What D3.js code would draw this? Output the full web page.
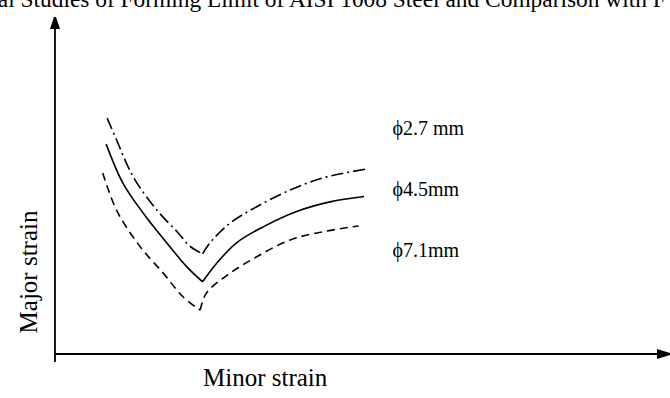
<!DOCTYPE html>
<html>
<head>
<meta charset="utf-8">
<script src="https://cdn.jsdelivr.net/npm/d3@7"></script>
<style>
  html, body { margin: 0; padding: 0; background: #fff; }
  svg { display: block; }
  text { font-family: "Liberation Serif", "Times New Roman", serif; fill: #000; }
</style>
</head>
<body>
<svg id="chart" width="670" height="398"></svg>
<script>
// Forming limit curves (minor strain vs. major strain) for three grid circle diameters
const titleText = "al Studies of Forming Limit of AISI 1008 Steel and Comparison with F";
const xLabel = "Minor strain";
const yLabel = "Major strain";
const seriesNames = ["\u03D52.7 mm", "\u03D54.5mm", "\u03D57.1mm"];

// [minor strain, major strain] — left (drawing) branch and right (stretching) branch
const d27Left  = [[-0.194,0.490],[-0.175,0.445],[-0.141,0.368],[-0.093,0.299],[-0.050,0.252],[-0.026,0.224],[0.000,0.208]];
const d27Right = [[0.000,0.208],[0.015,0.231],[0.056,0.272],[0.110,0.306],[0.179,0.341],[0.245,0.366],[0.332,0.384]];
const d45Left  = [[-0.196,0.436],[-0.162,0.355],[-0.121,0.293],[-0.073,0.231],[-0.032,0.181],[0.000,0.150]];
const d45Right = [[0.000,0.150],[0.029,0.189],[0.069,0.231],[0.123,0.264],[0.191,0.296],[0.259,0.316],[0.328,0.327]];
const d71Left  = [[-0.203,0.376],[-0.175,0.299],[-0.127,0.223],[-0.080,0.168],[-0.040,0.119],[-0.005,0.091]];
const d71Right = [[-0.005,0.091],[0.008,0.127],[0.056,0.168],[0.110,0.202],[0.178,0.237],[0.245,0.254],[0.317,0.266]];

// label anchor values (minor, major) for each curve name
const labelPos = [[0.386,0.455],[0.386,0.328],[0.386,0.2015]];

const svg = d3.select("#chart");
const x = d3.scaleLinear().domain([-0.3, 0.95]).range([55, 670]);
const y = d3.scaleLinear().domain([0, 0.7]).range([354, 17]);

// title (runs off both edges)
svg.append("text")
  .attr("x", -2.2).attr("y", 7)
  .attr("font-size", 23.4)
  .text(titleText);

// axes with arrowheads
const x0 = x.range()[0], x1 = x.range()[1];
const y0 = y.range()[0], y1 = y.range()[1];
const axisG = svg.append("g");
axisG.append("line")
  .attr("x1", x0).attr("x2", x0)
  .attr("y1", y0 + 8).attr("y2", y1 + 10)
  .attr("stroke", "#000").attr("stroke-width", 1.8);
axisG.append("line")
  .attr("x1", x0).attr("x2", x1 - 12)
  .attr("y1", y0).attr("y2", y0)
  .attr("stroke", "#000").attr("stroke-width", 1.8);
axisG.append("path")
  .attr("d", `M${x0 - 1},${y1} L${x0 + 1},${y1} L${x0 + 5},${y1 + 12} L${x0 - 5},${y1 + 12} Z`)
  .attr("fill", "#000");
axisG.append("path")
  .attr("d", `M${x1},${y0 - 1} L${x1},${y0 + 1} L${x1 - 13},${y0 + 5} L${x1 - 13},${y0 - 5} Z`)
  .attr("fill", "#000");

// axis titles
svg.append("text")
  .attr("x", 203).attr("y", 386)
  .attr("font-size", 25)
  .text(xLabel);
svg.append("text")
  .attr("transform", "translate(37,272) rotate(-90)")
  .attr("text-anchor", "middle")
  .attr("font-size", 25)
  .text(yLabel);

// curves
const line = d3.line()
  .x(d => x(d[0])).y(d => y(d[1]))
  .curve(d3.curveCatmullRom.alpha(0.5));

const curves = [
  { left: d27Left, right: d27Right, dash: "12,4,2,4" },
  { left: d45Left, right: d45Right, dash: null },
  { left: d71Left, right: d71Right, dash: "8,5" }
];

curves.forEach(c => {
  svg.append("path")
    .attr("d", line(c.left) + line(c.right))
    .attr("fill", "none")
    .attr("stroke", "#000")
    .attr("stroke-width", 1.6)
    .attr("stroke-dasharray", c.dash);
});

// curve names
svg.selectAll("text.lbl")
  .data(seriesNames)
  .join("text")
  .attr("class", "lbl")
  .attr("x", (d, i) => x(labelPos[i][0]))
  .attr("y", (d, i) => y(labelPos[i][1]))
  .attr("font-size", 20)
  .text(d => d);
</script>
</body>
</html>
